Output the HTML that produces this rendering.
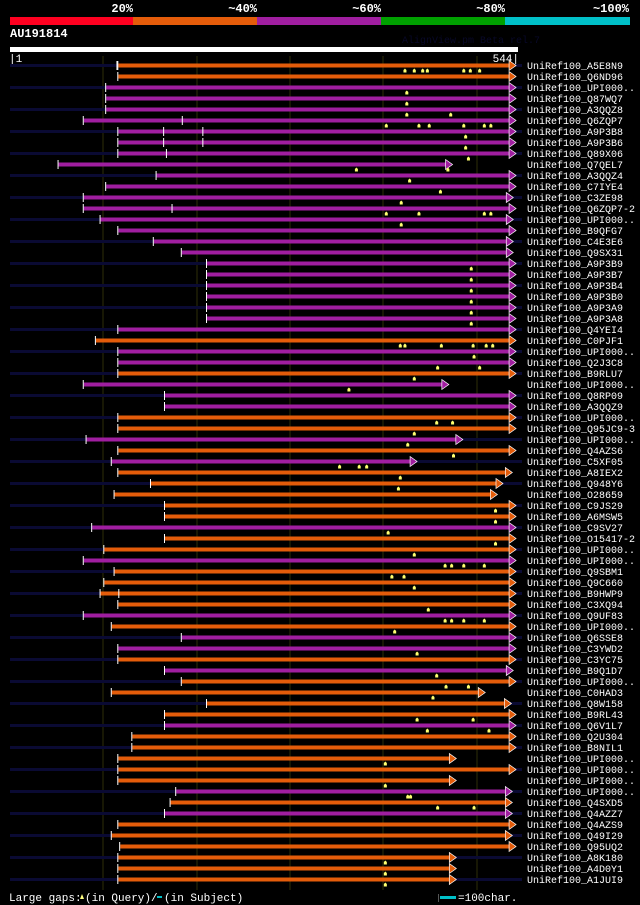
<!DOCTYPE html>
<html><head><meta charset="utf-8">
<style>
html,body{margin:0;padding:0;background:#000;}
body{width:640px;height:905px;overflow:hidden;}
svg{display:block;font-family:"Liberation Mono","DejaVu Sans Mono",monospace;}
</style></head>
<body>
<svg id="chart" width="640" height="905" viewBox="0 0 640 905" xmlns="http://www.w3.org/2000/svg">
  <g>
    <rect x="10" y="17" width="123" height="8" fill="#ff0020"/>
    <rect x="133" y="17" width="124" height="8" fill="#e45c0a"/>
    <rect x="257" y="17" width="124" height="8" fill="#a01ea0"/>
    <rect x="381" y="17" width="124" height="8" fill="#00a000"/>
    <rect x="505" y="17" width="125" height="8" fill="#00c0c8"/>
    <g fill="#fff" font-weight="bold" font-size="12" text-anchor="end">
      <text x="133" y="12">20%</text><text x="257" y="12">~40%</text><text x="381" y="12">~60%</text><text x="505" y="12">~80%</text><text x="629" y="12">~100%</text>
    </g>
  </g>
  <text x="10" y="37" fill="#fff" font-weight="bold" font-size="12">AU191814</text>
  <text x="402" y="43" fill="#080828" font-size="10">AlignView.pm Beta rel.7</text>
  <rect x="10" y="47" width="508" height="5" fill="#fff"/>
  <text x="9" y="62" fill="#fff" font-size="11">|1</text>
  <text x="519" y="62" fill="#fff" font-size="11" text-anchor="end">544|</text>
  <g id="grid"></g>
  <g id="rows"></g>
  <g font-size="11" fill="#fff">
    <text x="9" y="901">Large gaps:</text>
    <path d="M80,899 l2,-5 l2,5 z" fill="#ffff80"/>
    <text x="85" y="901">(in Query)/</text>
    <rect x="157" y="896" width="5" height="2" fill="#00c0c8"/>
    <text x="164" y="901">(in Subject)</text>
    <rect x="438" y="894" width="1" height="8" fill="#555"/>
    <rect x="440" y="896" width="16" height="3" fill="#00c0c8"/>
    <text x="458" y="901">=100char.</text>
  </g>
</svg>
<script>
const names=["A5E8N9","Q6ND96","UPI000..","Q87WQ7","A3QQZ8","Q6ZQP7","A9P3B8","A9P3B6","Q89X06","Q7QEL7","A3QQZ4","C7IYE4","C3ZE98","Q6ZQP7-2","UPI000..","B9QFG7","C4E3E6","Q9SX31","A9P3B9","A9P3B7","A9P3B4","A9P3B0","A9P3A9","A9P3A8","Q4YEI4","C0PJF1","UPI000..","Q2J3C8","B9RLU7","UPI000..","Q8RP09","A3QQZ9","UPI000..","Q95JC9-3","UPI000..","Q4AZS6","C5XF05","A8IEX2","Q948Y6","O28659","C9JS29","A6MSW5","C9SV27","O15417-2","UPI000..","UPI000..","Q9SBM1","Q9C660","B9HWP9","C3XQ94","Q9UF83","UPI000..","Q6SSE8","C3YWD2","C3YC75","B9Q1D7","UPI000..","C0HAD3","Q8W158","B9RL43","Q6V1L7","Q2U304","B8NIL1","UPI000..","UPI000..","UPI000..","UPI000..","Q4SXD5","Q4AZZ7","Q4AZS9","Q49I29","Q95UQ2","A8K180","A4D0Y1","A1JUI9"];
const identity=["o","o","p","p","p","p","p","p","p","p","p","p","p","p","p","p","p","p","p","p","p","p","p","p","p","o","p","p","o","p","p","p","o","o","p","o","p","o","o","o","o","o","p","o","o","p","o","o","o","o","p","o","p","p","o","p","o","o","o","o","p","o","o","o","o","o","p","o","p","o","o","o","o","o","o"];
const starts=[117,117,104,104,104,80,117,117,117,53,158,104,80,80,98,117,155,185,212,212,212,212,212,212,117,93,117,117,117,80,167,167,117,117,83,117,110,117,152,113,167,167,89,167,102,80,113,102,98,117,80,110,185,117,117,167,185,110,212,167,167,132,132,117,117,117,179,173,167,117,110,119,117,117,117];
const ends=[543,543,543,543,543,543,543,543,543,475,543,543,540,543,540,543,540,540,543,543,543,543,543,543,543,543,543,543,543,471,543,543,543,543,486,543,437,539,529,523,543,543,543,543,543,543,543,543,543,543,543,543,543,543,543,540,543,510,538,543,543,543,543,479,543,479,539,539,539,543,539,543,479,479,479];
const gaps=[[424,434,443,448,487,494,504],[],[426],[426],[426,473],[404,439,450,487,509,516],[489],[489],[492],[372,470],[429],[462],[420],[404,439,509,516],[420],[],[],[],[495],[495],[495],[495],[495],[495],[],[419,424,463,497,511,518],[498],[459,504],[434],[364],[],[],[458,475],[434],[427],[476],[354,375,383],[419],[417],[],[521],[521],[406],[521],[434],[467,474,487,509],[410,423],[434],[],[449],[467,474,487,509],[413],[],[437],[],[458],[468,492],[454],[],[437,497],[448,514],[],[],[403],[],[403],[427,430],[459,498],[],[],[],[],[403],[403],[403]];
const ticks=[[115],[],[],[],[],[185],[165,207],[165,207],[168],[],[],[],[],[174],[],[],[],[],[],[],[],[],[],[],[],[],[],[],[],[],[],[],[],[],[],[],[],[],[],[],[],[],[],[],[],[],[],[],[117],[],[],[],[],[],[],[],[],[],[],[],[],[],[],[],[],[],[],[],[],[],[],[],[],[],[]];
const gridTicks=[101,201,301,401,501];

const NS="http://www.w3.org/2000/svg";
function xPos(p){return 10+(p-1)*507/543;}
function yRow(i){return 65.5+i*11;}
const colorMap={o:"#e45c0a",p:"#a01ea0"};
function mk(tag,attrs,parent){const e=document.createElementNS(NS,tag);for(const k in attrs)e.setAttribute(k,attrs[k]);parent.appendChild(e);return e;}

const grid=document.getElementById("grid");
gridTicks.forEach(t=>{
  const l=mk("rect",{x:Math.round(xPos(t))-0.5,y:56,width:1,height:834,fill:"#2e2e08"},grid);
  
  
});

const rows=document.getElementById("rows");
names.forEach((n,i)=>{
  const y=yRow(i);
  const g=mk("g",{},rows);
  
  
  if(i%2===0){mk("rect",{x:10,y:y-1.5,width:512,height:3,fill:"#0a0a33"},g);}
  const col=colorMap[identity[i]];
  const x0=xPos(starts[i]),tip=xPos(ends[i]);
  const bar=mk("rect",{x:x0,y:y-2,width:Math.max(0,tip-6-x0),height:4,fill:col},g);
  
  
  mk("path",{d:`M${tip-7},${y-5} L${tip},${y} L${tip-7},${y+5} Z`,fill:col,stroke:"#fff","stroke-width":0.7},g);
  mk("rect",{x:x0-1,y:y-4.5,width:1,height:9,fill:"#fff"},g);
  ticks[i].forEach(t=>{mk("rect",{x:xPos(t),y:y-4.5,width:1,height:9,fill:"#fff"},g);});
  gaps[i].forEach(p=>{
    const gx=xPos(p);
    const m=mk("path",{d:`M${gx-1.5},${y+7} L${gx-1.5},${y+4.5} L${gx},${y+3} L${gx+1.5},${y+4.5} L${gx+1.5},${y+7} Z`,fill:"#ffff70"},g);
    
    
  });
  const t=mk("text",{x:527,y:y+3.5,fill:"#fff","font-size":"10"},g);
  t.textContent="UniRef100_"+n;
  
  
});
</script>
</body></html>
